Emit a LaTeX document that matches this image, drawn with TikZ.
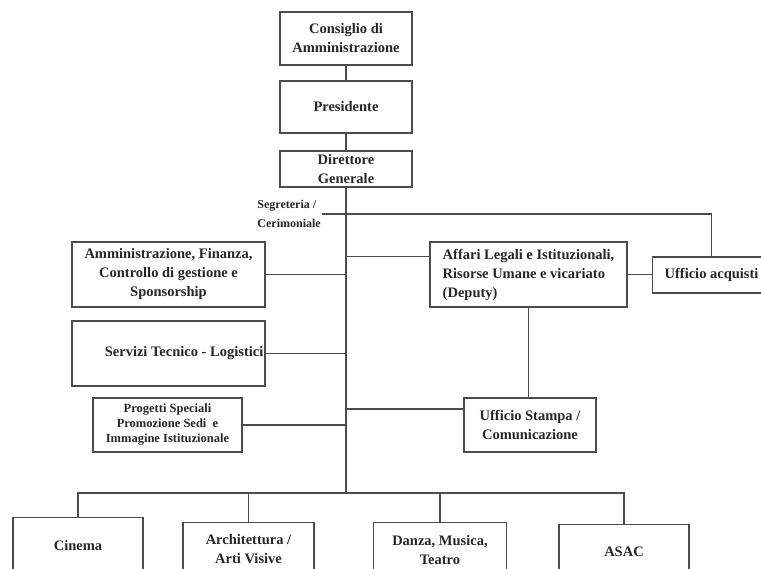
\documentclass[tikz,border=0pt]{standalone}
\usepackage{fontspec}
\setmainfont{Liberation Serif}
\usepackage{tikz}
\usetikzlibrary{
    positioning
}

\begin{document}
\begin{tikzpicture}[x=1pt, y=-1pt,
    every node/.style={font=\bfseries\fontsize{14.5}{19}\selectfont, text=black!85},
    unitbox/.style={draw=black!70, line width=1.1pt, inner sep=3pt, align=center},
    link/.style={draw=black!70, line width=1.1pt}]
    \useasboundingbox (0,0) rectangle (761,569);

    % top of the chart
    \node[unitbox, minimum width=132, minimum height=53] (cda) at (346,38.5) {Consiglio di\\Amministrazione};
    \node[unitbox, minimum width=132, minimum height=52] (pres) at (346,107) {Presidente};
    \node[unitbox, minimum width=132, minimum height=36] (dg) at (346,169) {Direttore\\Generale};
    \node[align=left, anchor=east, inner sep=1pt, font=\bfseries\fontsize{12}{19}\selectfont] (segr) at (322,214) {Segreteria /\\Cerimoniale};

    % staff offices
    \node[unitbox, minimum width=193, minimum height=65] (amm) at (168.5,274.5) {Amministrazione, Finanza,\\Controllo di gestione e\\Sponsorship};
    \node[unitbox, minimum width=193, minimum height=65] (serv) at (168.5,353.5) {};
    \node[anchor=east, inner sep=2pt] (servtxt) at (serv.east) {Servizi Tecnico - Logistici};
    \node[unitbox, minimum width=149, minimum height=54, font=\bfseries\fontsize{12.5}{15}\selectfont] (prog) at (167.5,425) {Progetti Speciali\\Promozione Sedi\ \ e\\Immagine Istituzionale};
    \node[unitbox, minimum width=197, minimum height=65, align=left] (aff) at (528.5,274.5) {Affari Legali e Istituzionali,\\Risorse Umane e vicariato\\(Deputy)};
    \node[unitbox, minimum width=118, minimum height=36, anchor=west, align=left, inner sep=10pt] (acq) at (652,275) {Ufficio acquisti};
    \node[unitbox, minimum width=132, minimum height=54] (stampa) at (530,425) {Ufficio Stampa /\\Comunicazione};

    % sectors
    \node[unitbox, anchor=north, minimum width=130, minimum height=56] (cinema) at (78,517) {Cinema};
    \node[unitbox, anchor=north, minimum width=131, minimum height=54] (arch) at (248.5,522) {Architettura /\\Arti Visive};
    \node[unitbox, anchor=north, minimum width=133, minimum height=54] (danza) at (440,522) {Danza, Musica,\\Teatro};
    \node[unitbox, anchor=north, minimum width=130, minimum height=54] (asac) at (624,524) {ASAC};

    \coordinate (bus) at (dg.south |- 0,493);
    \coordinate (affin) at ([yshift=18pt]aff.west);
    \coordinate (stin) at ([yshift=16pt]stampa.west);

    % connectors
    \draw[link] (cda) -- (pres);
    \draw[link] (pres) -- (dg);
    \draw[link] (dg.south) -- (bus);
    \draw[link] (segr.east) -| (acq.north);
    \draw[link] (amm.east) -- (amm.east -| dg.south);
    \draw[link] (serv.east) -- (serv.east -| dg.south);
    \draw[link] (prog.east) -- (prog.east -| dg.south);
    \draw[link] (affin) -- (affin -| dg.south);
    \draw[link] (stin) -- (stin -| dg.south);
    \draw[link] (aff.east) -- (aff.east -| acq.west);
    \draw[link] (aff.south) -- (aff.south |- stampa.north);
    \foreach \n in {cinema, arch, danza, asac}
        \draw[link] (\n.north) |- (bus);
\end{tikzpicture}
\end{document}
